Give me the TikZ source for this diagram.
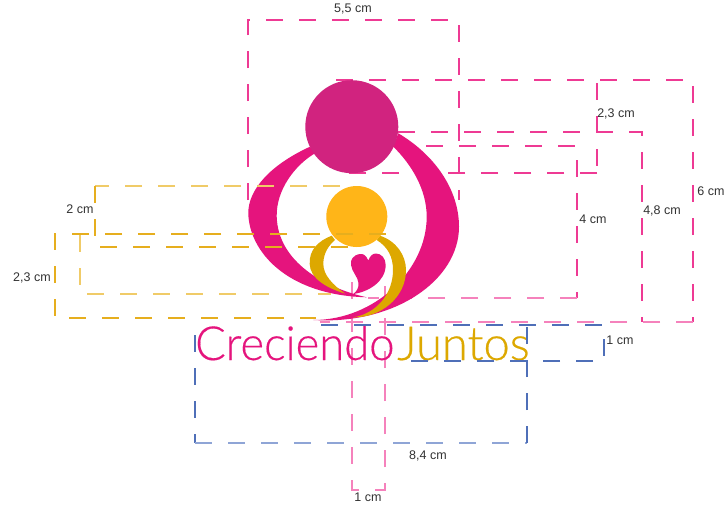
\documentclass[tikz,border=0pt]{standalone}
\usepackage{fontspec}
\setmainfont{Liberation Sans}
\newfontfamily\logofont[FakeBold=0.35]{Lato Light}
\definecolor{dpink}{HTML}{EE3A94}
\definecolor{lpink}{HTML}{F582BC}
\definecolor{dgold}{HTML}{E6AE1E}
\definecolor{lgold}{HTML}{F0CB68}
\definecolor{dblue}{HTML}{4F6FB8}
\definecolor{lblue}{HTML}{8FA5D6}
\definecolor{logopink}{HTML}{E5147D}
\definecolor{circpink}{HTML}{D1237F}
\definecolor{circgold}{HTML}{FFB518}
\definecolor{logogold}{HTML}{DDA800}
\tikzset{
  dashline/.style={line width=1.3pt,dash pattern=on 17pt off 16pt},
  lbl/.style={font=\fontsize{12.5}{14}\selectfont,text=black!80,inner sep=0pt}
}
\begin{document}
\begin{tikzpicture}[x=1pt,y=-1pt]
\useasboundingbox (0,0) rectangle (725,506);
\fill[white] (0,0) rectangle (725,506);
% pink dimension boxes
\draw[dashline,draw=dpink] (248,200) -- (248,20) -- (459,20) -- (459,200);
\draw[dashline,draw=dpink] (336,80) -- (693,80) -- (693,322);
\draw[dashline,draw=lpink] (693,322) -- (320,322);
\draw[dashline,draw=dpink] (336,80) -- (597,80) -- (597,173);
\draw[dashline,draw=dpink] (597,173) -- (336,173);
\draw[dashline,draw=dpink] (398,132) -- (642,132) -- (642,322);
\draw[dashline,draw=dpink] (360,146) -- (577,146) -- (577,298);
\draw[dashline,draw=lpink] (577,298) -- (368,298);
\draw[dashline,draw=lpink] (352,282) -- (352,490) -- (385,490) -- (385,286);
% logo
\fill[logopink] (310,146.7) .. controls (270,165) and (248,190) .. (248.3,213.3)
  .. controls (249,250) and (285,295) .. (366.7,297.3)
  .. controls (325,288) and (278,262) .. (276.7,216.7)
  .. controls (276,190) and (295,165) .. (315,153.3) -- cycle;
\fill[logopink] (398.3,133.3) .. controls (435,155) and (459,190) .. (459,226.7)
  .. controls (459,280) and (395,325) .. (313.3,320)
  .. controls (375,320) and (426.7,270) .. (426.7,216.7)
  .. controls (426.7,190) and (412,165) .. (393.3,146.7) -- cycle;
\fill[logogold] (331.7,235.7) .. controls (318,241) and (309,250) .. (309.7,264)
  .. controls (310,278) and (326,288) .. (345,293.5)
  .. controls (333,285) and (323,275) .. (323.3,263.3)
  .. controls (323.5,253) and (329,245) .. (335,240) -- cycle;
\fill[logogold] (380,235.7) .. controls (396,241) and (406,255) .. (406,270)
  .. controls (406,298) and (380,318) .. (353.3,317.3)
  .. controls (375,314) and (393,295) .. (393,270)
  .. controls (393,257) and (388,247) .. (376.7,240) -- cycle;
\fill[logopink] (368.3,260.5) .. controls (366,255) and (363,253.5) .. (360,254)
  .. controls (353,255) and (350,260) .. (351,265)
  .. controls (352,272) and (358,277) .. (358.5,283)
  .. controls (358.8,288) and (357,291) .. (353.3,294)
  .. controls (368,292) and (385.5,282) .. (385.7,265)
  .. controls (385.7,258) and (381,253.5) .. (376,253.5)
  .. controls (372.5,253.5) and (370,256) .. (368.3,260.5) -- cycle;
\fill[circpink] (351.8,126.7) circle (46.5);
\fill[circgold] (356.8,216.5) circle (30.5);
% gold dimension boxes
\draw[dashline,draw=lgold] (340,186) -- (95,186);
\draw[dashline,draw=dgold] (95,186) -- (95,247) -- (351,247);
\draw[dashline,draw=dgold] (386,234) -- (55,234) -- (55,318) -- (316,318);
\draw[dashline,draw=lgold] (80,235) -- (80,294) -- (331,294);
% wordmark
\node[anchor=base west,inner sep=0pt,text=logopink] (cre) at (195,360)
  {\scalebox{0.965}[1]{\fontsize{47}{47}\logofont Creciendo}};
\node[anchor=base west,inner sep=0pt,text=logogold] (jun) at (397,360)
  {\fontsize{47}{47}\logofont Juntos};
% blue boxes
\draw[dashline,draw=dblue] (321,325) -- (604,325) -- (604,361) -- (396,361);
\draw[dashline,draw=dblue] (195,335) -- (195,443);
\draw[dashline,draw=lblue] (195,443) -- (527,443);
\draw[dashline,draw=dblue] (527,443) -- (527,327);
% labels
\node[lbl] (l1) at (353,9) {5,5 cm};
\node[lbl] (l2) at (616,113.5) {2,3 cm};
\node[lbl] (l3) at (593,219) {4 cm};
\node[lbl] (l4) at (662,211) {4,8 cm};
\node[lbl] (l5) at (711,191) {6 cm};
\node[lbl] (l6) at (80,209) {2 cm};
\node[lbl] (l7) at (32,278) {2,3 cm};
\node[lbl] (l8) at (620,340) {1 cm};
\node[lbl] (l9) at (428,455.5) {8,4 cm};
\node[lbl] (l10) at (368,497) {1 cm};
\end{tikzpicture}
\end{document}
